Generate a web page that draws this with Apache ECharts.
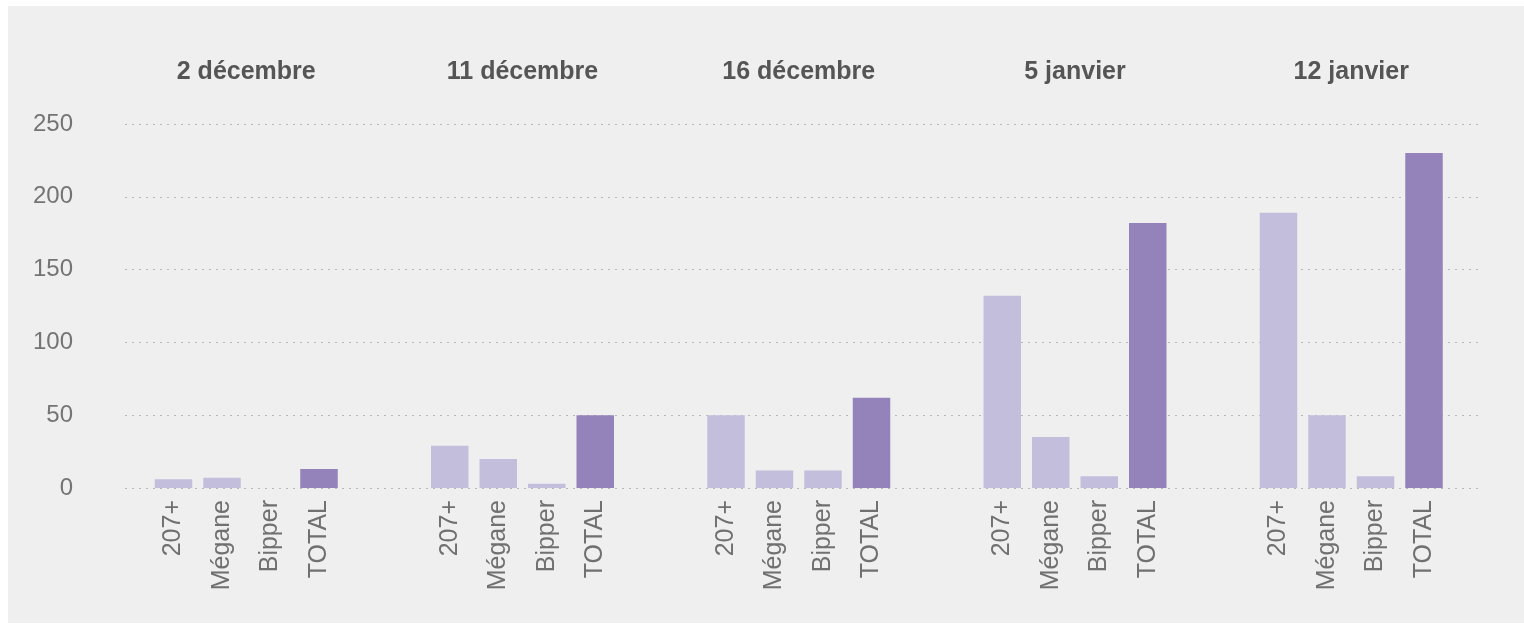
<!DOCTYPE html>
<html>
<head>
<meta charset="utf-8">
<script src="https://cdn.jsdelivr.net/npm/echarts@6/dist/echarts.min.js"></script>
<style>
html,body{margin:0;padding:0;background:#ffffff;}
#panel{position:absolute;left:8px;top:6px;width:1516px;height:617px;background:#efefef;}
#chart{position:absolute;left:0;top:0;width:1524px;height:628px;}
</style>
</head>
<body>
<div id="panel"></div>
<div id="chart"></div>
<script>
// Data
const dates = ['2 décembre', '11 décembre', '16 décembre', '5 janvier', '12 janvier'];
const models = ['207+', 'Mégane', 'Bipper', 'TOTAL'];
const s207 = [6, 29, 50, 132, 189];
const sMegane = [7, 20, 12, 35, 50];
const sBipper = [0, 3, 12, 8, 8];
const sTotal = [13, 50, 62, 182, 230];
const yTicks = [0, 50, 100, 150, 200, 250];

const LIGHT = '#c3bedc';
const DARK = '#9383ba';
const FONT = '"Liberation Sans", Arial, sans-serif';

const gTop = 124, gBottom = 140;
const grids = [{left: 125, right: 42, top: gTop, bottom: gBottom}];
const xAxes = [{gridIndex: 0, type: 'value', min: 0, max: 1, show: false}];
const yAxes = [{
  gridIndex: 0, type: 'value', min: yTicks[0], max: yTicks[yTicks.length - 1], interval: 50,
  axisLine: {show: false}, axisTick: {show: false},
  axisLabel: {color: '#747474', fontSize: 24, fontFamily: FONT, margin: 52, align: 'right'},
  splitLine: {show: true, lineStyle: {color: '#b8b8b8', width: 1.2, type: [2, 5]}}
}];
const series = [];

dates.forEach((d, i) => {
  const gi = i + 1;
  grids.push({left: 149.25 + i * 276.25, width: 194, top: gTop, bottom: gBottom});
  xAxes.push({
    gridIndex: gi, type: 'category', data: models, position: 'bottom',
    axisLine: {show: false}, axisTick: {show: false},
    axisLabel: {rotate: 90, color: '#707070', fontSize: 25, fontFamily: FONT, margin: 12, interval: 0}
  });
  xAxes.push({
    gridIndex: gi, type: 'category', data: models, position: 'top',
    axisLine: {show: false}, axisTick: {show: false}, axisLabel: {show: false},
    name: d, nameLocation: 'middle', nameGap: 39,
    nameTextStyle: {color: '#555555', fontSize: 25, fontWeight: 'bold', fontFamily: FONT}
  });
  yAxes.push({gridIndex: gi, type: 'value', min: 0, max: 250, interval: 50, show: false, splitLine: {show: false}});
  const vals = [s207[i], sMegane[i], sBipper[i], sTotal[i]];
  series.push({
    type: 'bar', xAxisIndex: xAxes.length - 2, yAxisIndex: gi,
    barWidth: 37.5,
    data: vals.map((v, k) => ({value: v, itemStyle: {color: k === 3 ? DARK : LIGHT}})),
    silent: true
  });
});

const chart = echarts.init(document.getElementById('chart'));
chart.setOption({
  backgroundColor: 'transparent',
  animation: false,
  grid: grids,
  xAxis: xAxes,
  yAxis: yAxes,
  series: series
});
</script>
</body>
</html>
